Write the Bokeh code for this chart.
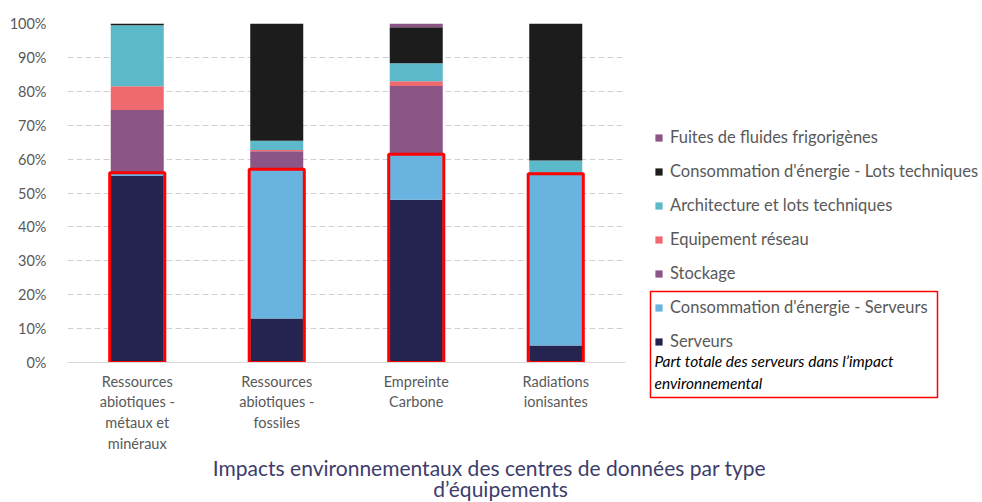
from bokeh.plotting import figure
from bokeh.layouts import row, column
from bokeh.models import (FactorRange, Range1d, FixedTicker, PrintfTickFormatter,
                          Legend, LegendItem, Label, BoxAnnotation)
from bokeh.embed import file_html
from bokeh.resources import INLINE

categories = ["Ressources\nabiotiques -\nmétaux et\nminéraux",
              "Ressources\nabiotiques -\nfossiles",
              "Empreinte\nCarbone",
              "Radiations\nionisantes"]

serveurs = [55, 13, 48, 5]
conso_serveurs = [1, 44, 13.4, 50.7]
stockage = [18.5, 5.3, 20.2, 0]
reseau = [7, 0.4, 1.4, 0]
architecture = [18, 2.7, 5.3, 3.9]
conso_lots = [0.5, 34.6, 10.6, 40.4]
fuites = [0, 0, 1.1, 0]

series_names = ["Serveurs", "Consommation d'énergie - Serveurs", "Stockage",
                "Equipement réseau", "Architecture et lots techniques",
                "Consommation d'énergie - Lots techniques", "Fuites de fluides frigorigènes"]
series_keys = ["serveurs", "conso_serveurs", "stockage", "reseau", "architecture",
               "conso_lots", "fuites"]
colors = ["#252350", "#68b3e0", "#8b5585", "#ee6a6e", "#5bb9c9", "#1c1c1c", "#8b5585"]

yticks = [0, 10, 20, 30, 40, 50, 60, 70, 80, 90, 100]

title_lines = ["Impacts environnementaux des centres de données par type", "d’équipements"]
note_lines = ["Part totale des serveurs dans l’impact", "environnemental"]

data = dict(x=categories, serveurs=serveurs, conso_serveurs=conso_serveurs,
            stockage=stockage, reseau=reseau, architecture=architecture,
            conso_lots=conso_lots, fuites=fuites)
server_total = [a + b for a, b in zip(serveurs, conso_serveurs)]

FONT = "Lato"
GREY = "#595959"
TOP_H = 455

# ---------------- main chart ----------------
p = figure(width=640, height=TOP_H, output_backend="svg", toolbar_location=None,
           x_range=FactorRange(*categories, range_padding=0), y_range=Range1d(0, 100),
           min_border_left=67, min_border_right=15, min_border_top=23,
           min_border_bottom=TOP_H - 362)
p.frame_align = False
p.outline_line_color = None

p.vbar_stack(series_keys, x="x", width=0.38, color=colors, line_color=None, source=data)
p.vbar(x=categories, top=server_total, bottom=0, width=0.395, fill_color=None,
       line_color="#ff0000", line_width=3)

p.yaxis.ticker = FixedTicker(ticks=yticks)
p.yaxis.formatter = PrintfTickFormatter(format="%d%%")
p.yaxis.axis_line_color = None
p.yaxis.major_tick_line_color = None
p.yaxis.minor_tick_line_color = None
p.yaxis.major_label_standoff = 15
p.yaxis.major_label_text_font = FONT
p.yaxis.major_label_text_font_size = "14.5px"
p.yaxis.major_label_text_color = GREY

p.xaxis.axis_line_color = "#d9d9d9"
p.xaxis.axis_line_width = 1
p.xaxis.major_tick_line_color = None
p.xaxis.minor_tick_line_color = None
p.xaxis.major_label_standoff = 4
p.xaxis.major_label_text_font = FONT
p.xaxis.major_label_text_font_size = "14.5px"
p.xaxis.major_label_text_color = GREY
p.xaxis.major_label_text_line_height = 1.235

p.xgrid.grid_line_color = None
p.ygrid.grid_line_color = "#d0d0d0"
p.ygrid.grid_line_dash = "6 3"
p.ygrid.grid_line_width = 1

# ---------------- legend panel ----------------
q = figure(width=342, height=TOP_H, output_backend="svg", toolbar_location=None,
           x_range=FactorRange(*categories), y_range=Range1d(200, 300),
           x_axis_location=None, y_axis_location=None,
           min_border=0, min_border_left=0, min_border_right=0,
           min_border_top=0, min_border_bottom=0)
q.frame_align = False
q.outline_line_color = None
q.grid.visible = False
legend_renderers = q.vbar_stack(series_keys, x="x", width=0.38, color=colors,
                                line_color=None, source=data)

items = [LegendItem(label=n, renderers=[r]) for n, r in zip(series_names, legend_renderers)]
legend = Legend(items=items[::-1], location=(14, TOP_H - 351), padding=0, margin=0,
                orientation="vertical",
                label_text_font=FONT, label_text_font_size="16.5px", label_text_color=GREY,
                glyph_width=9, glyph_height=9, label_height=20, spacing=14,
                label_standoff=7, border_line_color=None, background_fill_alpha=0)
q.add_layout(legend)

q.add_layout(Label(x=14, y=TOP_H - 360, x_units="screen", y_units="screen", text=note_lines[0],
                   text_font=FONT, text_font_style="italic", text_font_size="15.5px",
                   text_color="#000000", text_baseline="middle"))
q.add_layout(Label(x=14, y=TOP_H - 382, x_units="screen", y_units="screen", text=note_lines[1],
                   text_font=FONT, text_font_style="italic", text_font_size="15.5px",
                   text_color="#000000", text_baseline="middle"))
q.add_layout(BoxAnnotation(left=10, right=297, top=TOP_H - 291, bottom=TOP_H - 397,
                           left_units="screen", right_units="screen",
                           top_units="screen", bottom_units="screen",
                           fill_alpha=0, line_color="#ff0000", line_width=1.5, line_alpha=1))

# ---------------- title strip ----------------
TH = 502 - TOP_H
t = figure(width=982, height=TH, output_backend="svg", toolbar_location=None,
           x_range=Range1d(0, 1), y_range=Range1d(0, 1),
           x_axis_location=None, y_axis_location=None,
           min_border=0, min_border_left=0, min_border_right=0,
           min_border_top=0, min_border_bottom=0)
t.frame_align = False
t.outline_line_color = None
t.grid.visible = False
t.add_layout(Label(x=489, y=TH - 12, x_units="screen", y_units="screen", text=title_lines[0],
                   text_font=FONT, text_font_size="21px", text_color="#3d3d6b",
                   text_align="center", text_baseline="middle"))
t.add_layout(Label(x=500, y=TH - 33, x_units="screen", y_units="screen", text=title_lines[1],
                   text_font=FONT, text_font_size="21px", text_color="#3d3d6b",
                   text_align="center", text_baseline="middle"))

layout = column(row(p, q, spacing=0), t, spacing=0)
open("out.html", "w").write(file_html(layout, INLINE))
